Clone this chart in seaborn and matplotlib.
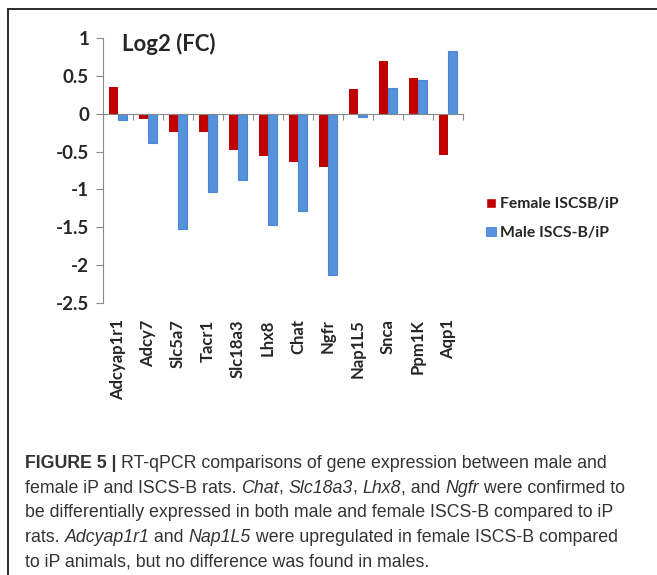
import numpy as np
import pandas as pd
import matplotlib
matplotlib.use('Agg')
import matplotlib.pyplot as plt
from matplotlib.patches import Patch
from matplotlib.lines import Line2D
from matplotlib.transforms import IdentityTransform
import seaborn as sns

# donnees
genes = ['Adcyap1r1', 'Adcy7', 'Slc5a7', 'Tacr1', 'Slc18a3', 'Lhx8',
         'Chat', 'Ngfr', 'Nap1L5', 'Snca', 'Ppm1K', 'Aqp1']
female = [0.36, -0.07, -0.24, -0.24, -0.48, -0.56, -0.64, -0.71, 0.33, 0.70, 0.47, -0.55]
male = [-0.08, -0.38, -1.53, -1.04, -0.87, -1.47, -1.28, -2.13, -0.04, 0.34, 0.45, 0.83]
series = ['Female ISCSB/iP', 'Male ISCS-B/iP']
yticks = [1, 0.5, 0, -0.5, -1, -1.5, -2, -2.5]
ytick_labels = ['1', '0.5', '0', '-0.5', '-1', '-1.5', '-2', '-2.5']

caption = [
    [('FIGURE 5 | ', 'b'), ('RT-qPCR comparisons of gene expression between male and', 'n')],
    [('female iP and ISCS-B rats. ', 'n'), ('Chat', 'i'), (', ', 'n'), ('Slc18a3', 'i'),
     (', ', 'n'), ('Lhx8', 'i'), (', and ', 'n'), ('Ngfr', 'i'), (' were confirmed to', 'n')],
    [('be differentially expressed in both male and female ISCS-B compared to iP', 'n')],
    [('rats. ', 'n'), ('Adcyap1r1', 'i'), (' and ', 'n'), ('Nap1L5', 'i'),
     (' were upregulated in female ISCS-B compared', 'n')],
    [('to iP animals, but no difference was found in males.', 'n')],
]

df = pd.DataFrame({
    'gene': genes * 2,
    'value': female + male,
    'series': [series[0]] * len(genes) + [series[1]] * len(genes),
})

colors = ['#C00000', '#5592DA']
grey = '#8a8a8a'

sns.set_style('ticks')
plt.rcParams['font.family'] = ['Lato', 'DejaVu Sans']

W, H = 657, 575
fig = plt.figure(figsize=(W / 100, H / 100), dpi=100)
ax = fig.add_axes([103 / W, 1 - 302.7 / H, 360 / W, 264.4 / H])

sns.barplot(data=df, x='gene', y='value', hue='series', palette=colors,
            width=0.6, saturation=1, ax=ax, legend=False)
for p in ax.patches:
    fc = p.get_facecolor()
    if fc[0] < 0.5:
        p.set_edgecolor('#4a88d6')
        p.set_linewidth(0.8)
    else:
        p.set_linewidth(0)

ax.set_xlim(-0.5, len(genes) - 0.5)
ax.set_ylim(-2.5, 1)
ax.set_xlabel('')
ax.set_ylabel('')

for s in ['top', 'right']:
    ax.spines[s].set_visible(False)
ax.spines['left'].set_color(grey)
ax.spines['bottom'].set_color(grey)
ax.spines['bottom'].set_position(('data', 0))

ax.set_yticks(yticks, ytick_labels)
ax.tick_params(axis='y', length=5, color=grey, pad=5, labelsize=13.5)
for t in ax.get_yticklabels():
    t.set_fontweight('bold')

ax.set_xticks(np.arange(-0.5, len(genes), 1))
ax.set_xticklabels([])
ax.tick_params(axis='x', length=4, color=grey)

sec = ax.secondary_xaxis(0)
sec.set_xticks(range(len(genes)), genes, rotation=90, fontsize=12, fontweight='bold')
sec.tick_params(length=0, pad=12)
sec.spines['bottom'].set_visible(False)

fig.text(122 / W, 1 - 44 / H, 'Log2 (FC)', fontsize=16, fontweight='bold', va='center')

handles = [Patch(facecolor=colors[0]), Patch(facecolor=colors[1], edgecolor='#4a88d6', lw=0.6)]
fig.legend(handles, series, loc='upper left', bbox_to_anchor=(472 / W, 1 - 183 / H),
           frameon=False, handlelength=0.6, handleheight=0.6, handletextpad=0.3,
           labelspacing=0.95, prop={'weight': 'bold', 'size': 11.3})

# cadre partiel
fig.add_artist(Line2D([8 / W, 8 / W], [0, 1 - 8.5 / H], transform=fig.transFigure,
                      color='#2a2a2a', lw=1.4))
fig.add_artist(Line2D([8 / W, 1], [1 - 8.5 / H, 1 - 8.5 / H], transform=fig.transFigure,
                      color='#2a2a2a', lw=1.4))

# legende de la figure (texte mixte)
cap_font = ['Liberation Sans Narrow', 'Liberation Sans', 'DejaVu Sans']
cap_size = 12.8
cap_color = '#333333'
renderer = fig.canvas.get_renderer()


def text_width(s, style):
    kw = dict(fontsize=cap_size, family=cap_font,
              fontweight='bold' if style == 'b' else 'normal',
              fontstyle='italic' if style == 'i' else 'normal')
    a = fig.text(0, 0, '|' + s + '|', transform=IdentityTransform(), **kw)
    b = fig.text(0, 0, '||', transform=IdentityTransform(), **kw)
    w = a.get_window_extent(renderer).width - b.get_window_extent(renderer).width
    a.remove()
    b.remove()
    return w, kw


baselines = [468, 492.7, 517.4, 542.1, 566.8]
for line, yb in zip(caption, baselines):
    x = 25
    for s, style in line:
        w, kw = text_width(s, style)
        fig.text(x, H - yb, s, transform=IdentityTransform(), va='baseline',
                 color=cap_color, **kw)
        x += w

fig.savefig('out.png', dpi=100)
